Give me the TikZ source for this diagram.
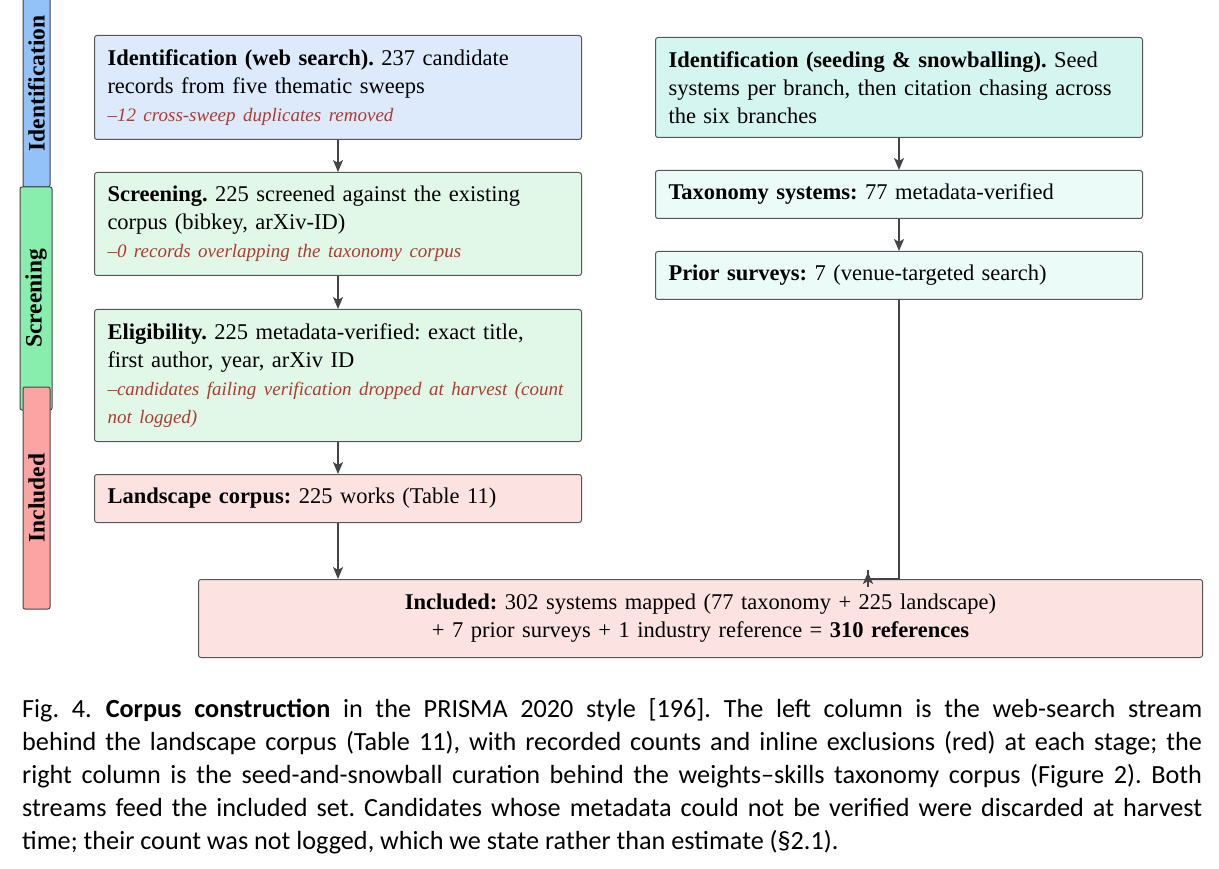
\documentclass[tikz,border=0pt]{standalone}
\usepackage{fontspec}
\setmainfont{Liberation Serif}
\newfontfamily\capfont{Carlito}
\usetikzlibrary{arrows.meta,calc}
\frenchspacing
\definecolor{webblue}{HTML}{DCEAFC}
\definecolor{scrgreen}{HTML}{E1F8E9}
\definecolor{incred}{HTML}{FDE2E2}
\definecolor{seedteal}{HTML}{D5F6F0}
\definecolor{lightteal}{HTML}{EBFBF8}
\definecolor{barblue}{HTML}{93C2F8}
\definecolor{bargreen}{HTML}{88EEAE}
\definecolor{barred}{HTML}{FAA5A3}
\definecolor{boxborder}{HTML}{555555}
\definecolor{arrgray}{HTML}{444444}
\definecolor{exred}{HTML}{B03A2E}
\tikzset{
  box/.style={draw=boxborder, line width=1pt, rounded corners=2.5pt, anchor=north west,
    text width=461pt, inner xsep=13pt, inner ysep=0pt, align=left,
    font=\fontsize{22.5}{28}\selectfont},
  sidebar/.style={draw=arrgray, line width=1pt, rounded corners=2pt, rotate=90,
    inner sep=0pt, font=\fontsize{23.5}{24}\selectfont\bfseries},
  arr/.style={draw=arrgray, line width=1.5pt, -{Stealth[length=12pt,width=10pt,inset=3pt]}},
  link/.style={draw=arrgray, line width=1.5pt}
}
\newcommand\exl[1]{{\color{exred}\itshape\fontsize{19}{28}\selectfont #1}}
\begin{document}
\begin{tikzpicture}[x=1pt,y=-1pt]
\useasboundingbox (0,0) rectangle (1219,869);
% side bars
\node[sidebar, fill=barblue, minimum width=207pt, minimum height=27pt] (barid) at (36.5,83.5) {Identification};
\node[sidebar, fill=bargreen, minimum width=223pt, minimum height=32pt] (barscr) at (36,298.5) {Screening};
\node[sidebar, fill=barred, minimum width=222pt, minimum height=27pt] (barinc) at (36.5,498) {Included};
% left column
\node[box, fill=webblue, minimum height=104pt] (web) at (94,35)
  {\textbf{Identification (web search).} 237 candidate\\records from five thematic sweeps\\\exl{–12 cross-sweep duplicates removed}};
\node[box, fill=scrgreen, minimum height=103pt] (scr) at (94,172)
  {\textbf{Screening.} 225 screened against the existing\\corpus (bibkey, arXiv-ID)\\\exl{–0 records overlapping the taxonomy corpus}};
\node[box, fill=scrgreen, minimum height=132pt] (elig) at (94,309)
  {\textbf{Eligibility.} 225 metadata-verified: exact title,\\first author, year, arXiv ID\\\exl{\mbox{–candidates failing verification dropped at harvest (count}}\\\exl{not logged)}};
\node[box, fill=incred, minimum height=48pt] (land) at (94,474)
  {\textbf{Landscape corpus:} 225 works (Table 11)};
% right column
\node[box, fill=seedteal, minimum height=100pt] (seed) at (655,37)
  {\textbf{Identification (seeding \& snowballing).} Seed\\\mbox{systems per branch, then citation chasing across}\\the six branches};
\node[box, fill=lightteal, minimum height=48pt] (tax) at (655,170)
  {\textbf{Taxonomy systems:} 77 metadata-verified};
\node[box, fill=lightteal, minimum height=48pt] (prior) at (655,251)
  {\textbf{Prior surveys:} 7 (venue-targeted search)};
% included
\node[box, fill=incred, minimum height=78pt, text width=978pt, align=center] (incl) at (198,579)
  {\textbf{Included:} 302 systems mapped (77 taxonomy + 225 landscape)\\+ 7 prior surveys + 1 industry reference = \textbf{310 references}};
% connectors
\draw[arr] (web.south) -- (scr.north);
\draw[arr] (scr.south) -- (elig.north);
\draw[arr] (elig.south) -- (land.north);
\draw[arr] (land.south) -- (land.south |- incl.north);
\draw[arr] (seed.south) -- (tax.north);
\draw[arr] (tax.south) -- (prior.north);
\coordinate (bend) at (868,579);
\coordinate (stubtop) at (868,570);
\coordinate (tipfrom) at (868,587);
\coordinate (tipto) at (868,572);
\draw[link] (prior.south) |- (bend) -- (stubtop);
\draw[arr] (tipfrom) -- (tipto);
% caption
\node[anchor=north west, inner sep=0pt, text width=1180pt, align=justify,
  font=\capfont\fontsize{26.2}{33}\selectfont] (cap) at (22,698)
  {Fig.~4.\hspace{14pt}\textbf{Corpus construction} in the PRISMA 2020 style [196]. The left column is the web-search stream\linebreak
   behind the landscape corpus (Table 11), with recorded counts and inline exclusions (red) at each stage; the\linebreak
   right column is the seed-and-snowball curation behind the weights–skills taxonomy corpus (Figure 2). Both\linebreak
   streams feed the included set. Candidates whose metadata could not be verified were discarded at harvest\linebreak
   time; their count was not logged, which we state rather than estimate (§2.1).};
\end{tikzpicture}
\end{document}
